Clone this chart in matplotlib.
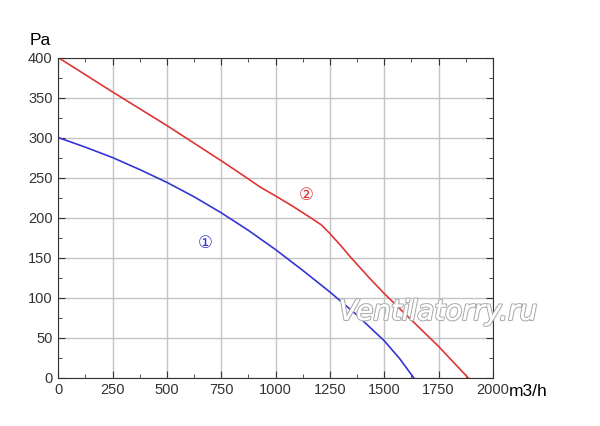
import matplotlib.pyplot as plt
import matplotlib.patheffects as pe
from matplotlib.ticker import MultipleLocator

# curve 1 (blue)
flow1 = [0, 125, 250, 375, 500, 625, 750, 875, 1000, 1125, 1250, 1375, 1500, 1570, 1635]
press1 = [300, 288, 275, 260, 244, 226, 206, 184, 160, 134, 107, 78, 46, 24, 0]

# curve 2 (red)
flow2 = [0, 250, 500, 750, 860, 930, 1000, 1080, 1160, 1210, 1250, 1300, 1340, 1430, 1500, 1625, 1750, 1885]
press2 = [400, 357, 315, 271, 251, 238, 227, 214, 200, 191, 180, 165, 152, 125, 105, 72, 39, 0]

xticks = [0, 250, 500, 750, 1000, 1250, 1500, 1750, 2000]
yticks = [0, 50, 100, 150, 200, 250, 300, 350, 400]

plt.rcParams['font.family'] = ['Liberation Sans', 'DejaVu Sans']

fig = plt.figure(figsize=(6, 4.26), dpi=100)
ax = fig.add_axes([0.097, 0.1134, 0.7247, 0.7516])

ax.plot(flow1, press1, color='#3535d5', lw=1.2)
ax.plot(flow2, press2, color='#e03535', lw=1.2)

ax.set_xlim(0, 2000)
ax.set_ylim(0, 400)
ax.set_xticks(xticks)
ax.set_yticks(yticks)
ax.xaxis.set_minor_locator(MultipleLocator(125))
ax.yaxis.set_minor_locator(MultipleLocator(25))
ax.tick_params(which='both', direction='in', top=True, right=True, colors='#333333', labelsize=10.5)
ax.tick_params(which='major', length=5, pad=4)
ax.tick_params(which='minor', length=3)
ax.grid(True, which='major', color='#c4c4c4', lw=1)
for s in ax.spines.values():
    s.set_color('#333333')

fig.text(0.067, 0.906, 'Pa', fontsize=12.5, ha='center', va='center')
fig.text(0.88, 0.08, 'm3/h', fontsize=12.5, ha='center', va='center')

ax.text(674, 168, '①', color='#3535d5', fontsize=12, ha='center', va='center',
        family=['DejaVu Sans', 'Noto Sans CJK SC'])
ax.text(1143, 228, '②', color='#e03535', fontsize=12, ha='center', va='center',
        family=['DejaVu Sans', 'Noto Sans CJK SC'])

wm = fig.text(0.73, 0.268, 'Ventilatorry.ru', fontsize=20, style='italic',
              color='white', ha='center', va='center', family='DejaVu Sans')
wm.set_path_effects([pe.withStroke(linewidth=1.8, foreground='#b0b0b0'), pe.Normal()])

fig.savefig('out.png')
